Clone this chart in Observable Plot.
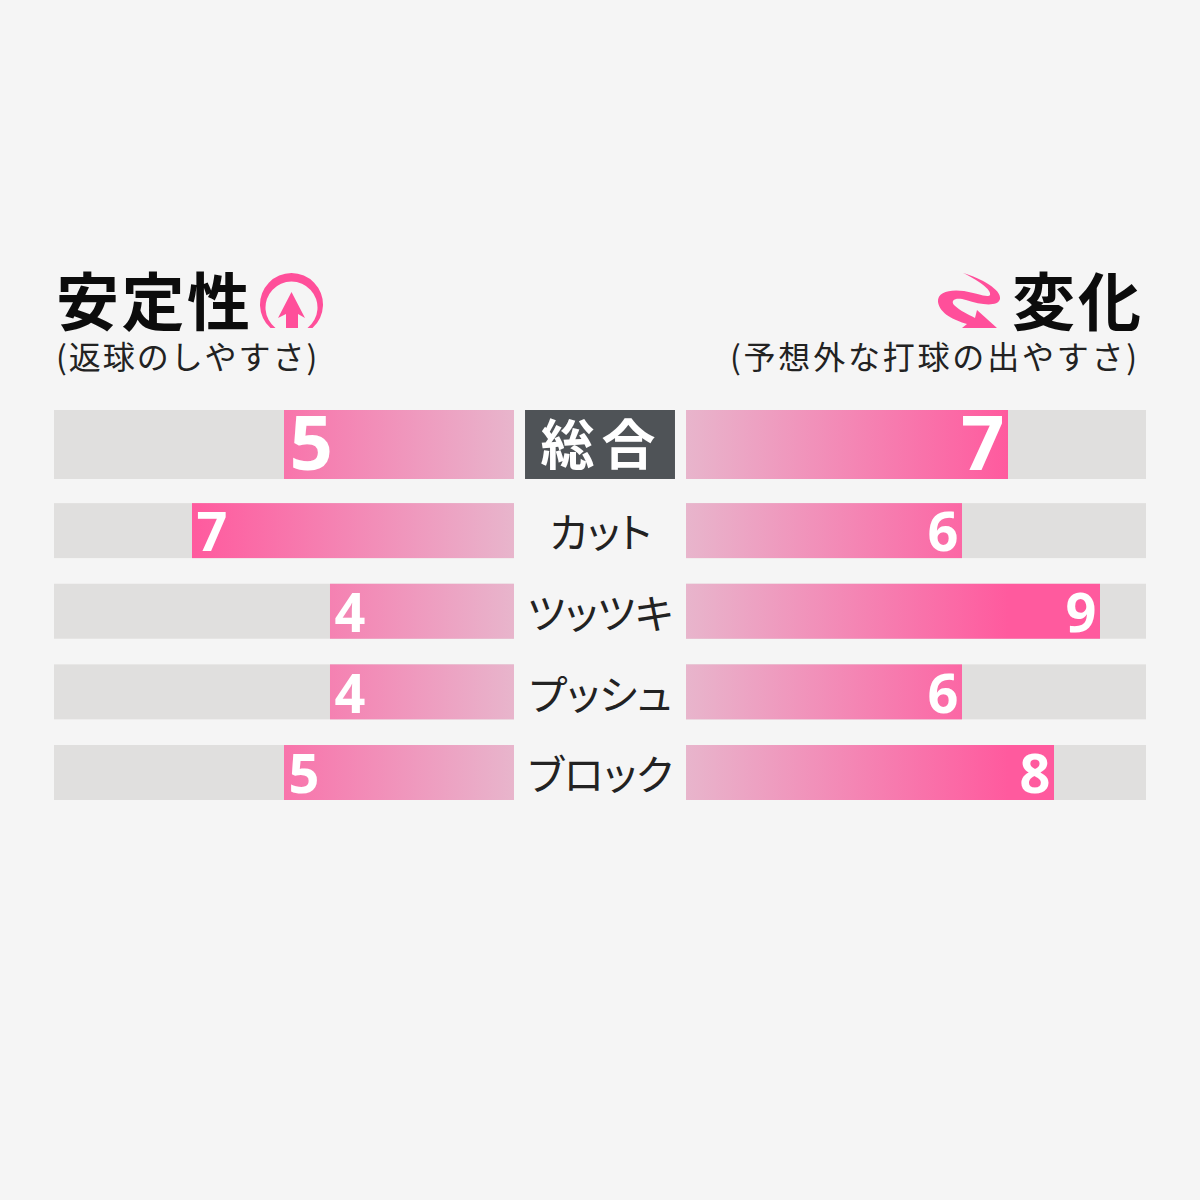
<!DOCTYPE html>
<html lang="ja"><head><meta charset="utf-8">
<script src="https://cdn.jsdelivr.net/npm/d3@7"></script>
<script src="https://cdn.jsdelivr.net/npm/@observablehq/plot@0.6"></script>
<style>
html,body{margin:0;padding:0;background:#f5f5f5}
#page{position:relative;width:1200px;height:1200px;overflow:hidden;font-family:"Noto Sans CJK JP",sans-serif;color:#111}
#page svg.plot{position:absolute;left:0;top:0;background:transparent}
.h{position:absolute;font-weight:700;font-size:63px;line-height:62px;letter-spacing:2.5px;white-space:nowrap;color:#0c0c0c}
.s{position:absolute;font-weight:400;font-size:32px;line-height:32px;letter-spacing:2px;white-space:nowrap;color:#222}
.i{position:absolute}
</style></head><body>
<div id="page">
<div class="h" style="left:56px;top:267px">安定性</div>
<div class="s" style="left:56px;top:339px">(返球のしやすさ)</div>
<svg class="i" style="left:258px;top:272px" width="68" height="58" viewBox="0 0 68 58">
<path d="M12.5 56 A31.5 31.5 0 1 1 54.5 56 L49.5 56 A26 26 0 1 0 17.5 56 Z" fill="#ff4f9a"/>
<path d="M33.5 20 L47 46 L40 42 L40 56 L28 56 L28 42 L20 46 Z" fill="#ff4f9a"/></svg>
<div class="h" style="right:56px;top:267px;letter-spacing:3px">変化</div>
<div class="s" style="right:60px;top:339px;letter-spacing:2.8px">(予想外な打球の出やすさ)</div>
<svg class="i" style="left:936px;top:272px" width="68" height="58" viewBox="0 0 68 58">
<path d="M27 1 C45 6 66 18 64 27 C62 35 45 33 30 28 C20 25 14 28 18 33 C24 39 32 42 39 46 L41 38 L61 56 L26 56 L31 52 C18 48 4 42 2 30 C1 20 14 17 28 19 C40 21 52 26 54 23 C56 18 42 8 27 1 Z" fill="#ff4f9a"/></svg>
<div id="chart"></div>
</div>
<script>
const rows = ["総合", "カット", "ツッツキ", "プッシュ", "ブロック"];
const stability = [5, 7, 4, 4, 5];
const variation = [7, 6, 9, 6, 8];
const maxScore = 10;
const gap = 1.87;      // half of the central label column, in score units
const labelHalf = 1.63; // half of the dark 総合 plate, in score units

const leftRows = rows.map((row, i) => ({row, v: stability[i], x1: -gap, x2: -gap - stability[i]}));
const rightRows = rows.map((row, i) => ({row, v: variation[i], x1: gap, x2: gap + variation[i]}));
const tracks = rows.flatMap(row => [
  {row, x1: -gap, x2: -gap - maxScore},
  {row, x1: gap, x2: gap + maxScore}
]);
const isTotal = d => d.row === rows[0];
const notTotal = d => d.row !== rows[0];
const tall = {insetTop: -12.5, insetBottom: -1.5};
const grey = "#e0dfde";
const numFont = '"Open Sans", sans-serif';
const cjk = '"Noto Sans CJK JP", sans-serif';
const textStyle = css => (i, s, v, d, c, next) => {
  const g = next(i, s, v, d, c);
  Object.assign(g.style, css);
  return g;
};

const plot = Plot.plot({
  width: 1200, height: 1200,
  marginTop: 0, marginBottom: 0, marginLeft: 0, marginRight: 0,
  style: {background: "transparent"},
  x: {domain: [-gap - maxScore, gap + maxScore], range: [54, 1146], axis: null},
  y: {type: "band", domain: rows, range: [422.5, 800], paddingInner: 0.318, paddingOuter: 0, round: false, axis: null},
  marks: [
    Plot.barX(tracks.filter(notTotal), {x1: "x1", x2: "x2", y: "row", fill: grey}),
    Plot.barX(tracks.filter(isTotal), {x1: "x1", x2: "x2", y: "row", fill: grey, ...tall}),
    Plot.barX(leftRows.filter(notTotal), {x1: "x1", x2: "x2", y: "row", fill: "url(#gradL)"}),
    Plot.barX(leftRows.filter(isTotal), {x1: "x1", x2: "x2", y: "row", fill: "url(#gradL)", ...tall}),
    Plot.barX(rightRows.filter(notTotal), {x1: "x1", x2: "x2", y: "row", fill: "url(#gradR)"}),
    Plot.barX(rightRows.filter(isTotal), {x1: "x1", x2: "x2", y: "row", fill: "url(#gradR)", ...tall}),
    Plot.barX(rows.slice(0, 1), {x1: () => -labelHalf, x2: () => labelHalf, y: d => d, fill: "#4f5357", ...tall}),
    // score labels
    Plot.text(leftRows.filter(notTotal), {x: "x2", y: "row", text: "v", textAnchor: "start", dx: 4, dy: 3, fill: "#fff", fontSize: 54, fontWeight: 700, fontFamily: numFont}),
    Plot.text(rightRows.filter(notTotal), {x: "x2", y: "row", text: "v", textAnchor: "end", dx: -4, dy: 3, fill: "#fff", fontSize: 54, fontWeight: 700, fontFamily: numFont}),
    Plot.text(leftRows.filter(isTotal), {x: "x2", y: "row", text: "v", textAnchor: "start", dx: 5, dy: -5, fill: "#fff", fontSize: 76, fontWeight: 700, fontFamily: numFont}),
    Plot.text(rightRows.filter(isTotal), {x: "x2", y: "row", text: "v", textAnchor: "end", dx: -4, dy: -5, fill: "#fff", fontSize: 76, fontWeight: 700, fontFamily: numFont}),
    // central labels
    Plot.text(rows.slice(1), {x: () => 0, y: d => d, text: d => d, fill: "#222", fontSize: 41, fontWeight: 400, fontFamily: cjk, dy: 4, render: textStyle({fontFeatureSettings: '"palt"'})}),
    Plot.text(rows.slice(0, 1), {x: () => 0, y: d => d, text: d => d, fill: "#fff", fontSize: 54, fontWeight: 700, fontFamily: cjk, dy: -3, dx: 1, render: textStyle({letterSpacing: "7px"})})
  ]
});
const defs = d3.create("svg:defs");
const x = plot.scale("x");
function grad(id, from, to) {
  const g = defs.append("linearGradient").attr("id", id).attr("gradientUnits", "userSpaceOnUse")
    .attr("x1", from).attr("x2", to).attr("y1", 0).attr("y2", 0);
  g.append("stop").attr("offset", 0).attr("stop-color", "#e8b5cc");
  g.append("stop").attr("offset", 1).attr("stop-color", "#ff5a9e");
}
grad("gradL", x.apply(-gap), x.apply(-gap - 7));
grad("gradR", x.apply(gap), x.apply(gap + 7));
plot.insertBefore(defs.node(), plot.firstChild);
document.getElementById("chart").append(plot);
</script>
</body></html>
